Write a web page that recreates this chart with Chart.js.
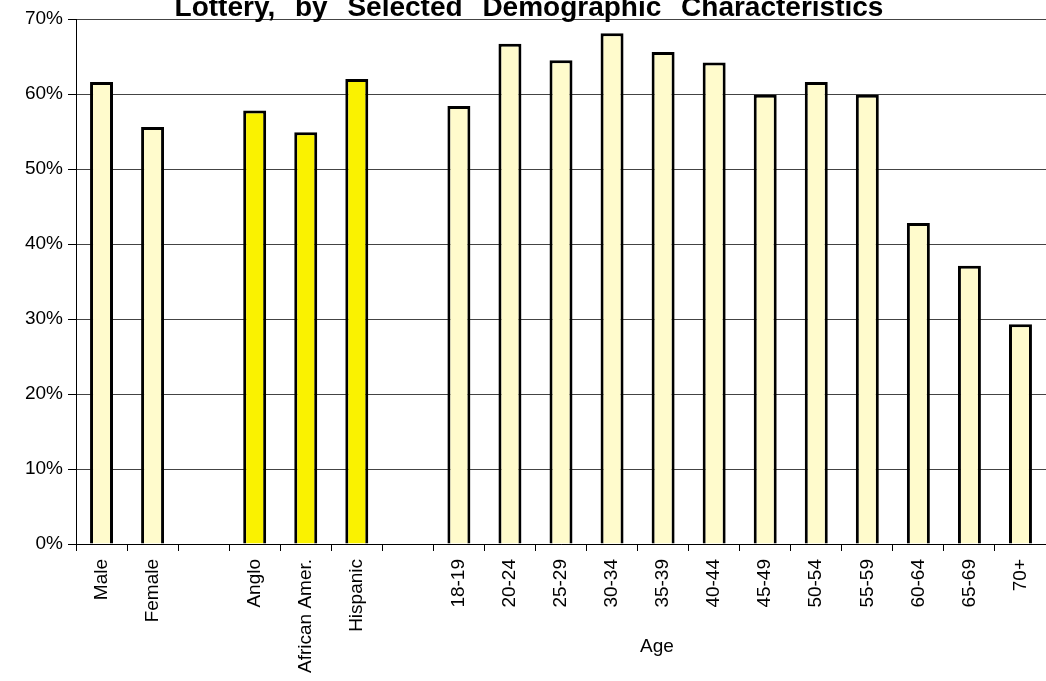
<!DOCTYPE html>
<html>
<head>
<meta charset="utf-8">
<script src="https://cdn.jsdelivr.net/npm/chart.js@4/dist/chart.umd.min.js"></script>
<style>
  html, body { margin: 0; padding: 0; background: #fff; }
  #wrap { width: 1046px; height: 681px; }
</style>
</head>
<body>
<div id="wrap"><canvas id="lotteryChart" width="1046" height="681"></canvas></div>
<script>
// data (percent who played the lottery)
const genderLabels = ['Male', 'Female'];
const genderValues = [61.6, 55.6];

const raceLabels = ['Anglo', 'African Amer.', 'Hispanic'];
const raceValues = [57.8, 54.9, 62.0];

const ageLabels = ['18-19', '20-24', '25-29', '30-34', '35-39', '40-44',
                   '45-49', '50-54', '55-59', '60-64', '65-69', '70+'];
const ageValues = [58.4, 66.7, 64.5, 68.1, 65.6, 64.2, 59.9, 61.6, 59.9, 42.8, 37.1, 29.3];

const yTicks = [0, 10, 20, 30, 40, 50, 60, 70];

const lightYellow = '#FFFBCC';
const brightYellow = '#FAF200';

// combine the groups, with an empty slot between them
const labels = [...genderLabels, '', ...raceLabels, '', ...ageLabels];
const values = [...genderValues, null, ...raceValues, null, ...ageValues];
const colors = [
    ...genderLabels.map(() => lightYellow), null,
    ...raceLabels.map(() => brightYellow), null,
    ...ageLabels.map(() => lightYellow)
];

const FONT = '"Liberation Sans", Arial, sans-serif';

// title (its top is cut off in the original) and the "Age" caption
const textPlugin = {
    id: 'texts',
    afterDraw(chart) {
        const ctx = chart.ctx;
        ctx.save();
        ctx.fillStyle = '#000';
        ctx.textAlign = 'center';
        ctx.textBaseline = 'alphabetic';
        ctx.font = 'bold 28px ' + FONT;
        ctx.wordSpacing = '12px';
        ctx.fillText('Lottery, by Selected Demographic Characteristics', 529, 16);
        ctx.wordSpacing = '0px';
        ctx.font = '19px ' + FONT;
        ctx.fillText('Age', 657, 652);
        ctx.restore();
    }
};

new Chart(document.getElementById('lotteryChart'), {
    type: 'bar',
    data: {
        labels: labels,
        datasets: [{
            data: values,
            backgroundColor: colors,
            borderColor: '#000',
            borderWidth: 3,
            categoryPercentage: 1.0,
            barPercentage: 0.45
        }]
    },
    options: {
        responsive: false,
        animation: false,
        layout: { padding: { top: 19, right: 0, left: 0, bottom: 0 } },
        plugins: {
            legend: { display: false },
            tooltip: { enabled: false }
        },
        scales: {
            x: {
                offset: true,
                grid: {
                    offset: true,
                    drawOnChartArea: false,
                    tickLength: 7,
                    tickColor: '#000'
                },
                border: { color: '#000', width: 1 },
                ticks: {
                    color: '#000',
                    font: { family: FONT, size: 19 },
                    minRotation: 90,
                    maxRotation: 90,
                    autoSkip: false,
                    padding: 8
                },
                afterFit(scale) {
                    scale.height = 137;
                    scale.paddingLeft = 0;
                    scale.paddingRight = 0;
                }
            },
            y: {
                min: 0,
                max: 70,
                afterBuildTicks(scale) { scale.ticks = yTicks.map(v => ({ value: v })); },
                grid: {
                    color: '#444',
                    lineWidth: 1,
                    tickLength: 8,
                    tickColor: '#000'
                },
                border: { color: '#000', width: 1 },
                ticks: {
                    color: '#000',
                    font: { family: FONT, size: 19 },
                    padding: 5,
                    callback: v => v + '%'
                },
                afterFit(scale) { scale.width = 76; }
            }
        }
    },
    plugins: [textPlugin]
});
</script>
</body>
</html>
